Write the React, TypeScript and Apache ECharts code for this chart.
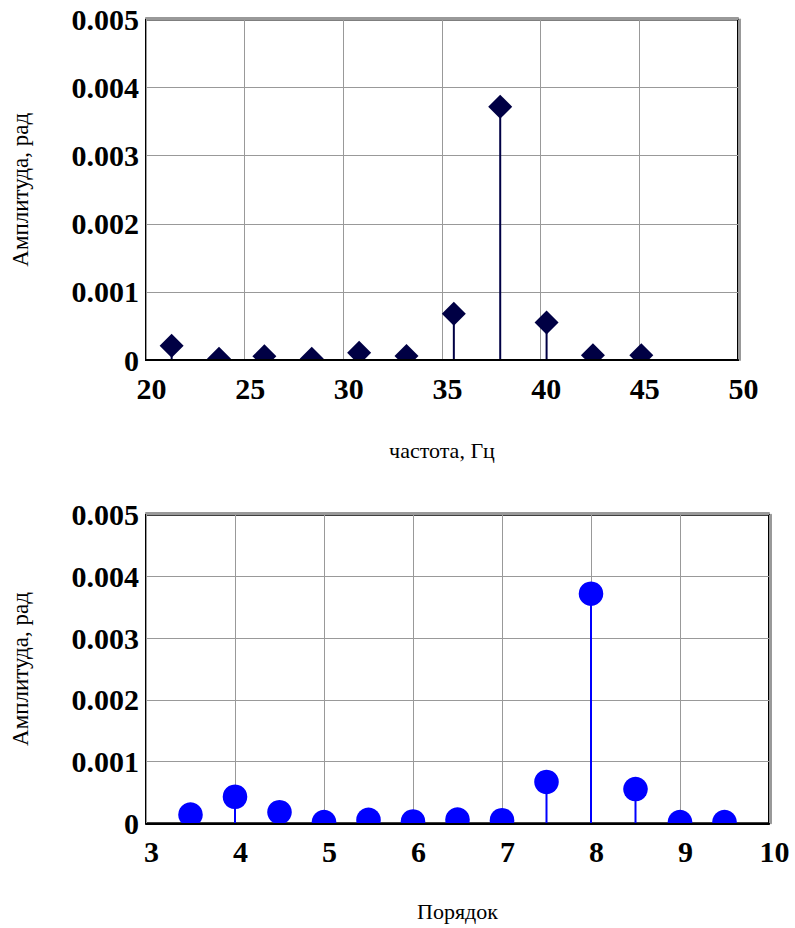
import React, { useEffect, useRef } from "react";
import * as echarts from "echarts";

// ---- data ----
const topFreq = [21.3, 23.7, 26.0, 28.4, 30.8, 33.2, 35.6, 37.95, 40.3, 42.65, 45.1];
const topAmp = [0.00021, 0.00002, 0.000055, 0.00002, 0.000105, 0.00006, 0.00068, 0.00372, 0.00055, 0.00007, 0.00007];

const orders = [3.5, 4, 4.5, 5, 5.5, 6, 6.5, 7, 7.5, 8, 8.5, 9, 9.5];
const orderAmp = [0.00014, 0.00043, 0.00018, 0.00002, 0.000055, 0.00003, 0.00006, 0.00005, 0.00067, 0.00372, 0.000555, 0.00002, 0.00002];

const yMin = 0;
const yMax = 0.005;
const yStep = 0.001;
const topXMin = 20;
const topXMax = 50;
const topXStep = 5;
const botXMin = 3;
const botXMax = 10;
const botXStep = 1;

const yName = "Амплитуда, рад";
const topXName = "частота, Гц";
const botXName = "Порядок";

const SERIF = '"Liberation Serif", "Times New Roman", serif';
const DIAMOND_COLOR = "#000044";
const CIRCLE_COLOR = "#0000ff";

function mainX(gridIndex: number, min: number, max: number, step: number, name: string, nameGap: number) {
  return {
    type: "value",
    gridIndex,
    position: "bottom",
    min,
    max,
    interval: step,
    name,
    nameLocation: "middle",
    nameGap,
    nameTextStyle: { fontFamily: SERIF, fontSize: 22, color: "#000" },
    axisLine: { show: false },
    axisTick: { show: false },
    axisLabel: {
      fontFamily: SERIF,
      fontSize: 30,
      fontWeight: "bold",
      color: "#000",
      margin: 13,
      padding: [0, 0, 0, 11],
    },
    splitLine: { show: true, lineStyle: { color: "#999", width: 1 } },
  };
}

function overlayX(gridIndex: number, min: number, max: number) {
  return {
    type: "value",
    gridIndex,
    position: "bottom",
    min,
    max,
    z: 10,
    axisLine: { show: true, lineStyle: { color: "#000", width: 2 } },
    axisTick: { show: false },
    axisLabel: { show: false },
    splitLine: { show: false },
  };
}

function shadowTopX(gridIndex: number, min: number, max: number) {
  return {
    type: "value",
    gridIndex,
    position: "top",
    offset: 2,
    min,
    max,
    axisLine: { show: true, lineStyle: { color: "#999", width: 2 } },
    axisTick: { show: false },
    axisLabel: { show: false },
    splitLine: { show: false },
  };
}

function mainY(gridIndex: number, nameGap: number) {
  return {
    type: "value",
    gridIndex,
    position: "left",
    min: yMin,
    max: yMax,
    interval: yStep,
    name: yName,
    nameLocation: "middle",
    nameGap,
    nameTextStyle: { fontFamily: SERIF, fontSize: 23, color: "#000" },
    axisLine: { show: false },
    axisTick: { show: false },
    axisLabel: {
      fontFamily: SERIF,
      fontSize: 30,
      fontWeight: "bold",
      color: "#000",
      margin: 7,
    },
    splitLine: { show: true, lineStyle: { color: "#999", width: 1 } },
  };
}

function shadowRightY(gridIndex: number) {
  return {
    type: "value",
    gridIndex,
    position: "right",
    offset: 2,
    min: yMin,
    max: yMax,
    axisLine: { show: true, lineStyle: { color: "#999", width: 2 } },
    axisTick: { show: false },
    axisLabel: { show: false },
    splitLine: { show: false },
  };
}

function stemSeries(xAxisIndex: number, yAxisIndex: number, xs: number[], ys: number[], color: string, shape: "diamond" | "circle") {
  return {
    type: "custom",
    xAxisIndex,
    yAxisIndex,
    clip: true,
    z: 5,
    data: xs.map((x, i) => [x, ys[i]]),
    renderItem: (_params: any, api: any) => {
      const x = api.value(0);
      const y = api.value(1);
      const p = api.coord([x, y]);
      const b = api.coord([x, 0]);
      const r = 12;
      const marker =
        shape === "diamond"
          ? {
              type: "polygon",
              shape: {
                points: [
                  [p[0], p[1] - r],
                  [p[0] + r, p[1]],
                  [p[0], p[1] + r],
                  [p[0] - r, p[1]],
                ],
              },
              style: { fill: color },
            }
          : {
              type: "circle",
              shape: { cx: p[0], cy: p[1], r: 12.3 },
              style: { fill: color },
            };
      return {
        type: "group",
        children: [
          {
            type: "line",
            shape: { x1: b[0], y1: b[1], x2: p[0], y2: p[1] },
            style: { stroke: color, lineWidth: 2 },
          },
          marker,
        ],
      };
    },
  };
}

export default function App() {
  const ref = useRef<HTMLDivElement>(null);
  useEffect(() => {
    if (!ref.current) return;
    const chart = echarts.init(ref.current, undefined, { renderer: "svg" });
    chart.setOption({
      animation: false,
      backgroundColor: "#fff",
      grid: [
        {
          left: 146,
          right: 57,
          top: 19.5,
          bottom: 568,
          show: true,
          borderColor: "#000",
          borderWidth: 2,
          backgroundColor: "transparent",
        },
        {
          left: 146,
          right: 26,
          top: 514.7,
          bottom: 104.7,
          show: true,
          borderColor: "#000",
          borderWidth: 2,
          backgroundColor: "transparent",
        },
      ],
      xAxis: [
        mainX(0, topXMin, topXMax, topXStep, topXName, 79),
        overlayX(0, topXMin, topXMax),
        shadowTopX(0, topXMin, topXMax),
        mainX(1, botXMin, botXMax, botXStep, botXName, 77),
        overlayX(1, botXMin, botXMax),
        shadowTopX(1, botXMin, botXMax),
      ],
      yAxis: [mainY(0, 114), shadowRightY(0), mainY(1, 114), shadowRightY(1)],
      series: [
        stemSeries(0, 0, topFreq, topAmp, DIAMOND_COLOR, "diamond"),
        stemSeries(3, 2, orders, orderAmp, CIRCLE_COLOR, "circle"),
      ],
    });
    return () => chart.dispose();
  }, []);
  return (
    <div
      ref={ref}
      style={{ position: "fixed", left: 0, top: 0, width: 795, height: 928, background: "#fff" }}
    />
  );
}
